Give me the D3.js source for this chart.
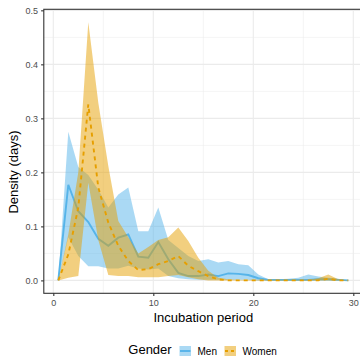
<!DOCTYPE html>
<html>

<head>
  <meta charset="utf-8">
  <script src="https://cdn.jsdelivr.net/npm/d3@7/dist/d3.min.js"></script>
  <style>
    body { margin: 0; background: #fff; }
    svg text { font-family: "Liberation Sans", Arial, sans-serif; }
  </style>
</head>

<body>
  <svg width="360" height="356" id="chart"></svg>
  <script>
    // data (days are bin centres)
    const days = [0.5, 1.5, 2.5, 3.5, 4.5, 5.5, 6.5, 7.5, 8.5, 9.5, 10.5, 11.5, 12.5, 13.5, 14.5,
      15.5, 16.5, 17.5, 18.5, 19.5, 20.5, 21.5, 22.5, 23.5, 24.5, 25.5, 26.5, 27.5, 28.5, 29.5];
    const menMean = [0, 0.177, 0.128, 0.108, 0.077, 0.064, 0.079, 0.085, 0.044, 0.042, 0.071, 0.039, 0.014, 0.008, 0.008,
      0.011, 0.008, 0.013, 0.012, 0.010, 0.004, 0.001, 0.001, 0.001, 0.001, 0.001, 0.002, 0.002, 0.001, 0];
    const menUpper = [0, 0.275, 0.210, 0.195, 0.168, 0.135, 0.159, 0.172, 0.091, 0.091, 0.135, 0.075, 0.060, 0.045, 0.036,
      0.039, 0.033, 0.036, 0.030, 0.028, 0.011, 0.002, 0.002, 0.003, 0.005, 0.011, 0.007, 0.005, 0.003, 0];
    const menLower = [0, 0.080, 0.045, 0.026, 0.026, 0.022, 0.022, 0.027, 0.022, 0.020, 0.022, 0.008, 0.004, 0.002, 0.001,
      0.001, 0.001, 0.001, 0.001, 0.001, 0, 0, 0, 0, 0, 0, 0, 0, 0, 0];
    const womenMean = [0, 0.048, 0.135, 0.326, 0.172, 0.107, 0.064, 0.036, 0.019, 0.021, 0.030, 0.036, 0.045, 0.027, 0.017,
      0.008, 0.002, 0, 0, 0, 0, 0, 0, 0, 0, 0, 0, 0.003, 0, 0];
    const womenUpper = [0, 0.085, 0.200, 0.478, 0.329, 0.212, 0.110, 0.080, 0.050, 0.062, 0.075, 0.080, 0.098, 0.073, 0.042,
      0.018, 0.005, 0.002, 0.001, 0.001, 0.001, 0.001, 0.001, 0.001, 0.001, 0.001, 0.004, 0.011, 0.002, 0];
    const womenLower = [0, 0.005, 0.008, 0.181, 0.075, 0.010, 0.008, 0.008, 0.006, 0.006, 0.006, 0.008, 0.010, 0.006, 0.002,
      0, 0, 0, 0, 0, 0, 0, 0, 0, 0, 0, 0, 0, 0, 0];

    const genders = ['Men', 'Women'];
    const xTicks = [0, 10, 20, 30];
    const xMinor = [5, 15, 25];
    const yTicks = [0, 0.1, 0.2, 0.3, 0.4, 0.5];
    const yMinor = [0.05, 0.15, 0.25, 0.35, 0.45];
    const xAxisLabel = 'Incubation period';
    const yAxisLabel = 'Density (days)';

    const colors = { Men: '#56B4E9', Women: '#E69F00' };
    const dashes = { Men: null, Women: '4,4' };

    const svg = d3.select('#chart');
    const panel = { left: 43.8, right: 362.8, top: 9.3, bottom: 293.3 };

    // ggplot style 5% expansion
    const xExt = d3.extent(days);
    const xPad = (xExt[1] - xExt[0]) * 0.05;
    const yMax = d3.max([menUpper, womenUpper], a => d3.max(a));
    const yPad = yMax * 0.05;

    const xScale = d3.scaleLinear()
      .domain([xExt[0] - xPad, xExt[1] + xPad])
      .range([panel.left, panel.right]);
    const yScale = d3.scaleLinear()
      .domain([-yPad, yMax + yPad])
      .range([panel.bottom, panel.top]);

    // grid
    const grid = svg.append('g').attr('id', 'grid');
    grid.selectAll('.xminor').data(xMinor).join('line')
      .attr('x1', d => xScale(d)).attr('x2', d => xScale(d))
      .attr('y1', panel.top).attr('y2', panel.bottom)
      .attr('stroke', '#EBEBEB').attr('stroke-width', 0.55);
    grid.selectAll('.yminor').data(yMinor).join('line')
      .attr('y1', d => yScale(d)).attr('y2', d => yScale(d))
      .attr('x1', panel.left).attr('x2', panel.right)
      .attr('stroke', '#EBEBEB').attr('stroke-width', 0.55);
    grid.selectAll('.xmajor').data(xTicks).join('line')
      .attr('x1', d => xScale(d)).attr('x2', d => xScale(d))
      .attr('y1', panel.top).attr('y2', panel.bottom)
      .attr('stroke', '#EBEBEB').attr('stroke-width', 1.1);
    grid.selectAll('.ymajor').data(yTicks).join('line')
      .attr('y1', d => yScale(d)).attr('y2', d => yScale(d))
      .attr('x1', panel.left).attr('x2', panel.right)
      .attr('stroke', '#EBEBEB').attr('stroke-width', 1.1);

    const series = {
      Men: days.map((d, i) => ({ x: d, m: menMean[i], lo: menLower[i], hi: menUpper[i] })),
      Women: days.map((d, i) => ({ x: d, m: womenMean[i], lo: womenLower[i], hi: womenUpper[i] }))
    };

    const area = d3.area()
      .x(d => xScale(d.x))
      .y0(d => yScale(d.lo))
      .y1(d => yScale(d.hi));
    const line = d3.line()
      .x(d => xScale(d.x))
      .y(d => yScale(d.m));

    const marks = svg.append('g').attr('id', 'marks');
    genders.forEach(gd => {
      marks.append('path')
        .attr('d', area(series[gd]))
        .attr('fill', colors[gd])
        .attr('fill-opacity', 0.5);
      marks.append('path')
        .attr('d', line(series[gd]))
        .attr('fill', 'none')
        .attr('stroke', colors[gd])
        .attr('stroke-width', 1.9)
        .attr('stroke-dasharray', dashes[gd]);
    });

    // panel border
    svg.append('rect')
      .attr('x', panel.left).attr('y', panel.top)
      .attr('width', panel.right - panel.left)
      .attr('height', panel.bottom - panel.top)
      .attr('fill', 'none')
      .attr('stroke', '#333333')
      .attr('stroke-width', 1.1);

    // axes
    const yAxis = d3.axisLeft(yScale).tickValues(yTicks)
      .tickFormat(d3.format('.1f')).tickSize(2.7).tickPadding(3);
    const yAxisGroup = svg.append('g').attr('transform', `translate(${panel.left}, 0)`).call(yAxis);
    yAxisGroup.select('.domain').remove();

    const xAxis = d3.axisBottom(xScale).tickValues(xTicks)
      .tickSize(2.7).tickPadding(4);
    const xAxisGroup = svg.append('g').attr('transform', `translate(0, ${panel.bottom})`).call(xAxis);
    xAxisGroup.select('.domain').remove();

    svg.selectAll('.tick line').attr('stroke', '#333333').attr('stroke-width', 1.1);
    svg.selectAll('.tick text')
      .attr('fill', '#4D4D4D')
      .attr('font-size', '9px')
      .style('font-family', '"Liberation Sans", Arial, sans-serif');

    svg.append('text')
      .attr('x', (panel.left + panel.right) / 2)
      .attr('y', 322)
      .attr('text-anchor', 'middle')
      .attr('font-size', '13px')
      .attr('fill', '#000')
      .text(xAxisLabel);

    svg.append('text')
      .attr('transform', `translate(17.5, 172) rotate(-90)`)
      .attr('text-anchor', 'middle')
      .attr('font-size', '13px')
      .attr('fill', '#000')
      .text(yAxisLabel);

    // legend
    const lg = svg.append('g').attr('id', 'legend');
    lg.append('text')
      .attr('x', 128.3).attr('y', 354)
      .attr('font-size', '13px')
      .text('Gender');
    const keyX = { Men: 179.5, Women: 224.5 };
    const keyW = 11.5;
    genders.forEach(gd => {
      const k = lg.append('g').attr('transform', `translate(${keyX[gd]}, 346)`);
      k.append('rect')
        .attr('width', keyW).attr('height', 10)
        .attr('fill', colors[gd]).attr('fill-opacity', 0.5);
      k.append('line')
        .attr('x1', 0.5).attr('x2', keyW - 0.5)
        .attr('y1', 5).attr('y2', 5)
        .attr('stroke', colors[gd])
        .attr('stroke-width', 1.9)
        .attr('stroke-dasharray', gd === 'Women' ? '3,3' : null);
      lg.append('text')
        .attr('x', keyX[gd] + keyW + 6.5).attr('y', 354.5)
        .attr('font-size', '10px')
        .text(gd);
    });
  </script>
</body>

</html>
